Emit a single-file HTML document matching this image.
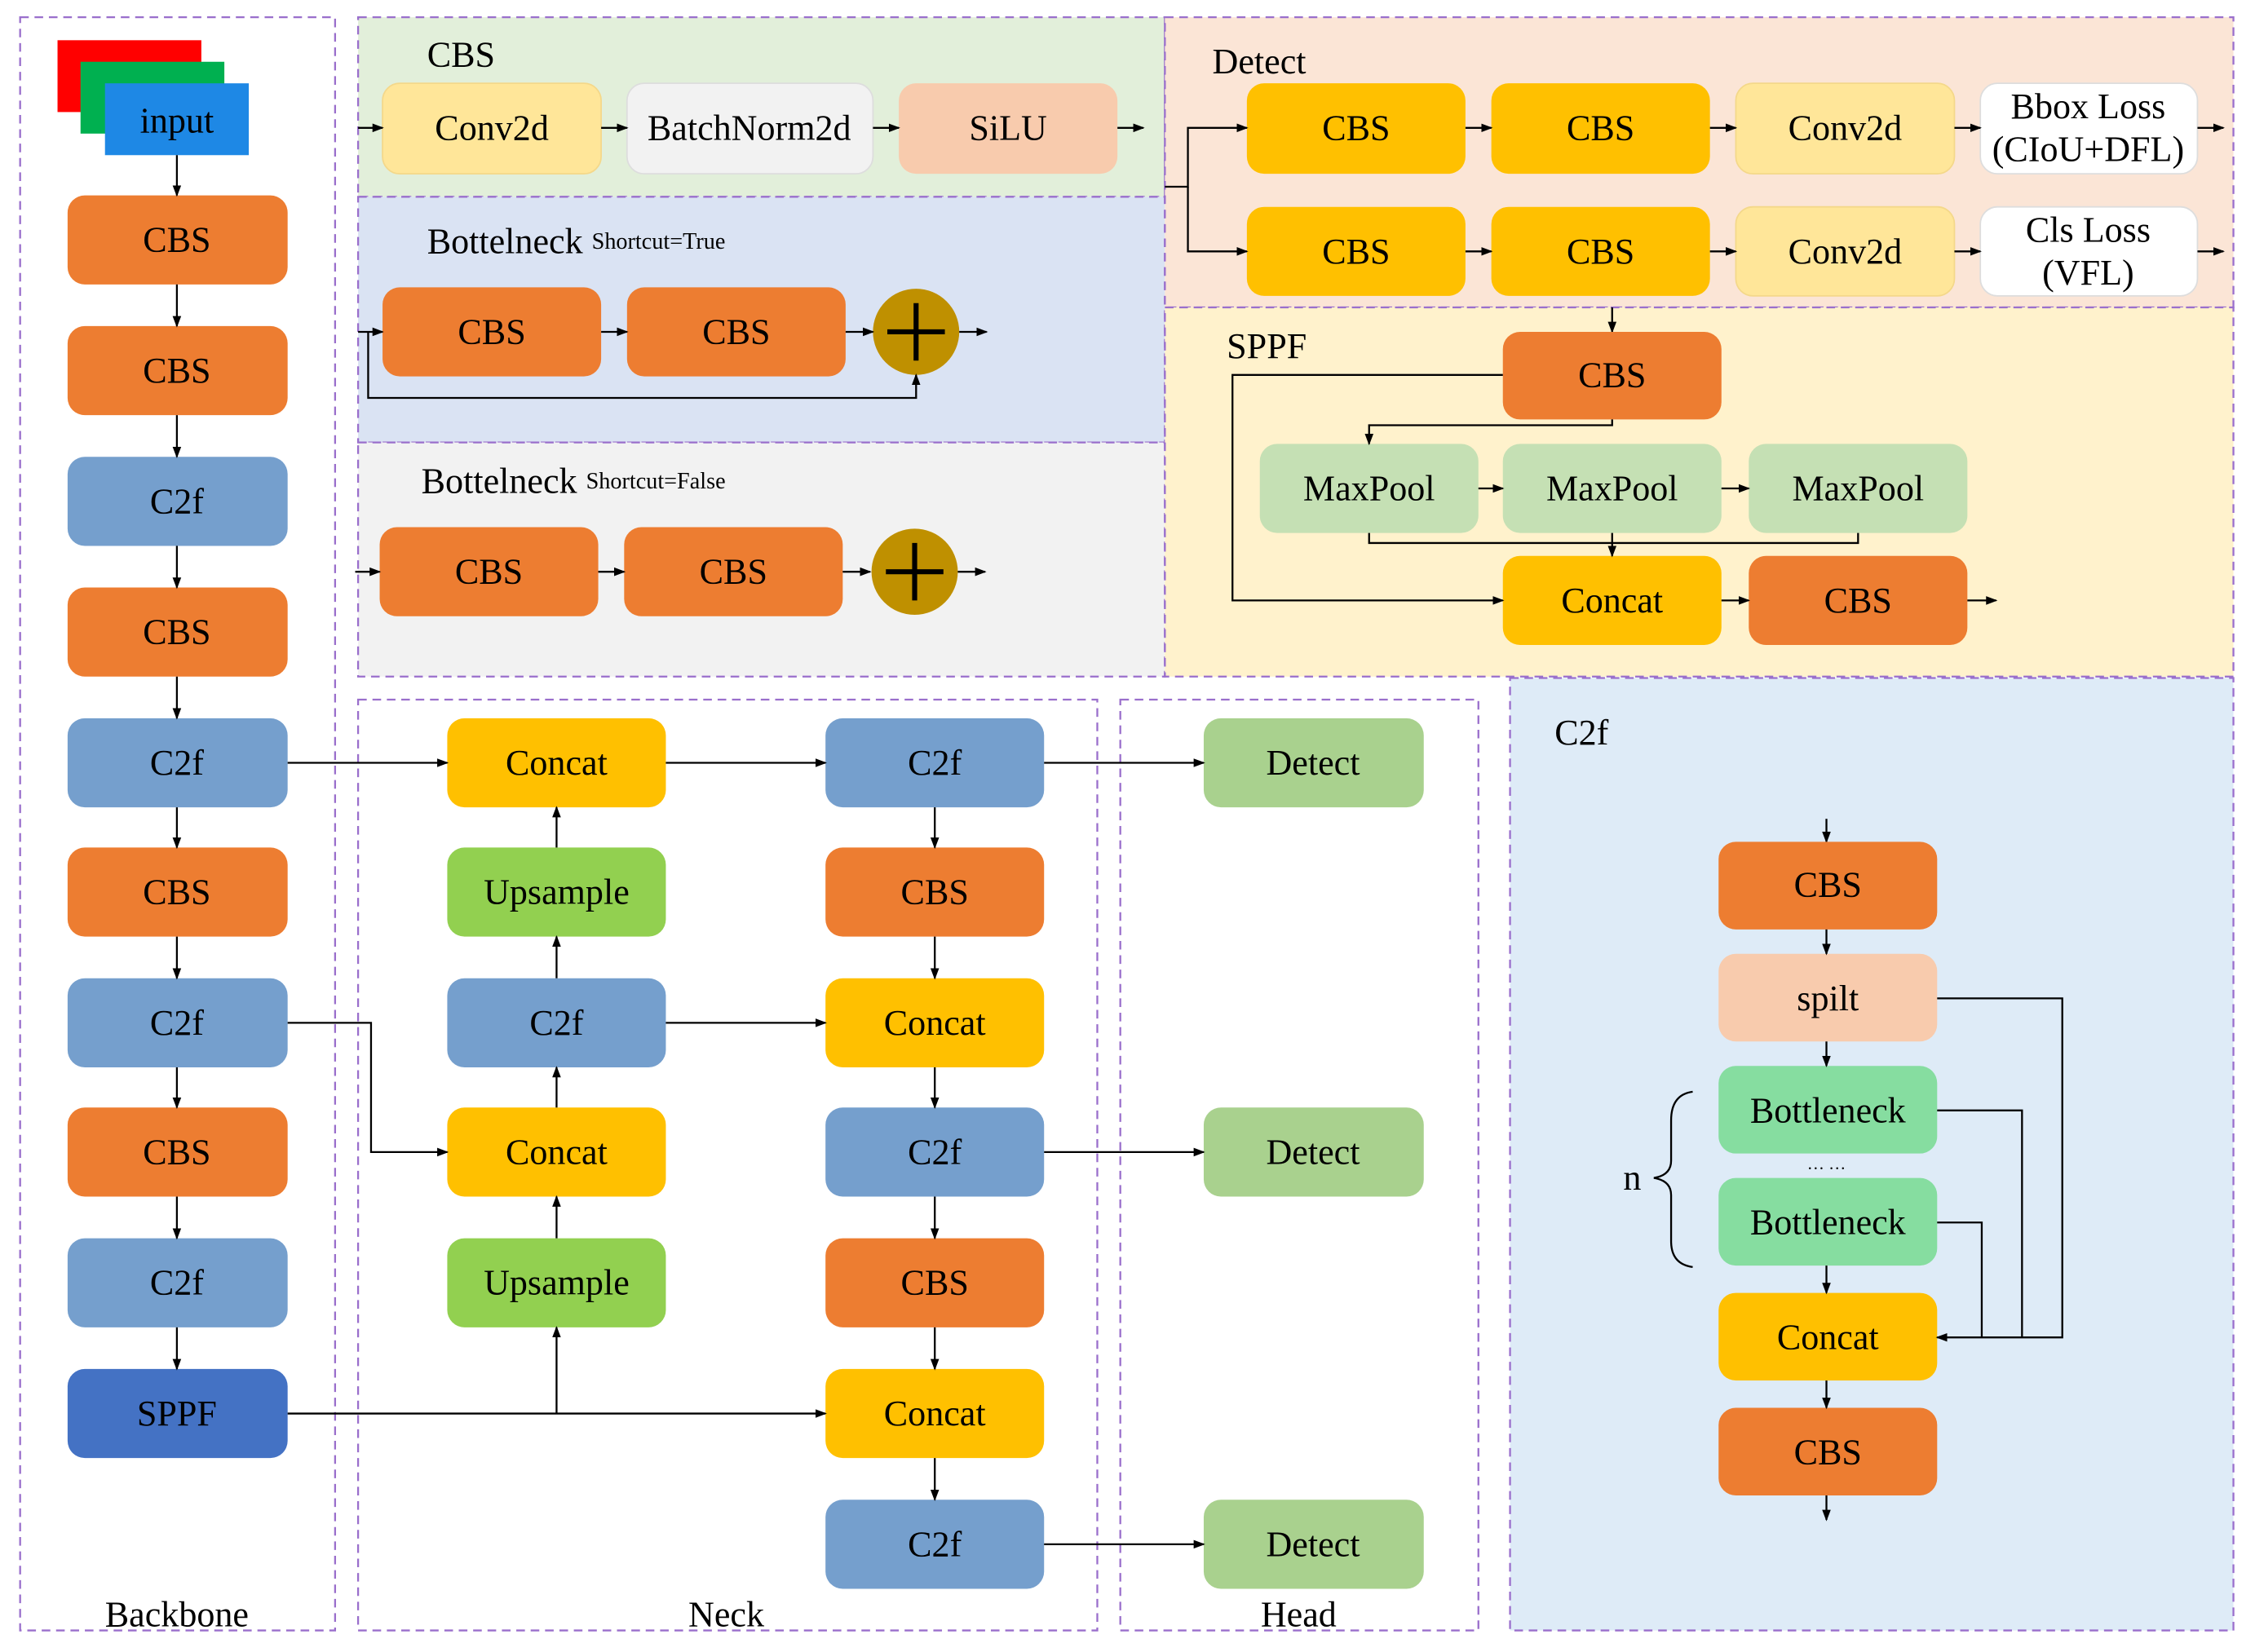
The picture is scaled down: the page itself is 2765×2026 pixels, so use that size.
<!DOCTYPE html>
<html><head><meta charset="utf-8"><style>
html,body{margin:0;padding:0;background:#fff;}
svg{display:block;}
text{font-family:"Liberation Serif",serif;font-size:25px;fill:#000;text-anchor:middle;dominant-baseline:central;}
.t{text-anchor:start;}
.l{stroke:#000;stroke-width:1.3;fill:none;}
.a{stroke:#000;stroke-width:1.3;fill:none;marker-end:url(#ar);}
.p{stroke:#9A6FCC;stroke-width:1.3;stroke-dasharray:6 4;}
</style></head><body>
<svg width="2765" height="2026" viewBox="0 0 1568 1150" preserveAspectRatio="none" xmlns="http://www.w3.org/2000/svg">
<defs><marker id="ar" markerWidth="8" markerHeight="8" refX="7" refY="4" orient="auto" markerUnits="userSpaceOnUse"><path d="M0,1 L8,4 L0,7 z" fill="#000"/></marker></defs>
<rect width="1568" height="1150" fill="#fff"/>
<!-- panels -->
<rect x="249" y="12" width="561" height="125" fill="#E2EFDA" class="p"/>
<rect x="249" y="137" width="561" height="171" fill="#DAE3F3" class="p"/>
<rect x="249" y="308" width="561" height="163" fill="#F2F2F2" class="p"/>
<rect x="810" y="12" width="743" height="202" fill="#FBE5D6" class="p"/>
<rect x="810" y="214" width="743" height="257" fill="#FFF2CC" class="p"/>
<rect x="1050" y="472" width="503" height="663" fill="#DEEBF7" class="p"/>
<rect x="14" y="12" width="219" height="1123" fill="none" class="p"/>
<rect x="249" y="487" width="514" height="648" fill="none" class="p"/>
<rect x="779" y="487" width="249" height="648" fill="none" class="p"/>

<!-- input -->
<rect x="40" y="28" width="100" height="50" fill="#FF0000"/>
<rect x="56" y="43" width="100" height="50" fill="#00B050"/>
<rect x="73" y="58" width="100" height="50" fill="#1E88E5"/>
<text x="123" y="84">input</text>

<!-- backbone -->
<g>
<rect x="47" y="136" width="153" height="62" rx="12" fill="#ED7D31"/><text x="123" y="167">CBS</text>
<rect x="47" y="227" width="153" height="62" rx="12" fill="#ED7D31"/><text x="123" y="258">CBS</text>
<rect x="47" y="318" width="153" height="62" rx="12" fill="#759FCD"/><text x="123" y="349">C2f</text>
<rect x="47" y="409" width="153" height="62" rx="12" fill="#ED7D31"/><text x="123" y="440">CBS</text>
<rect x="47" y="500" width="153" height="62" rx="12" fill="#759FCD"/><text x="123" y="531">C2f</text>
<rect x="47" y="590" width="153" height="62" rx="12" fill="#ED7D31"/><text x="123" y="621">CBS</text>
<rect x="47" y="681" width="153" height="62" rx="12" fill="#759FCD"/><text x="123" y="712">C2f</text>
<rect x="47" y="771" width="153" height="62" rx="12" fill="#ED7D31"/><text x="123" y="802">CBS</text>
<rect x="47" y="862" width="153" height="62" rx="12" fill="#759FCD"/><text x="123" y="893">C2f</text>
<rect x="47" y="953" width="153" height="62" rx="12" fill="#4472C4"/><text x="123" y="984">SPPF</text>
<line x1="123" y1="108" x2="123" y2="136" class="a"/>
<line x1="123" y1="198" x2="123" y2="227" class="a"/>
<line x1="123" y1="289" x2="123" y2="318" class="a"/>
<line x1="123" y1="380" x2="123" y2="409" class="a"/>
<line x1="123" y1="471" x2="123" y2="500" class="a"/>
<line x1="123" y1="562" x2="123" y2="590" class="a"/>
<line x1="123" y1="652" x2="123" y2="681" class="a"/>
<line x1="123" y1="743" x2="123" y2="771" class="a"/>
<line x1="123" y1="833" x2="123" y2="862" class="a"/>
<line x1="123" y1="924" x2="123" y2="953" class="a"/>
</g>

<!-- neck col1 -->
<rect x="311" y="500" width="152" height="62" rx="12" fill="#FFC000"/><text x="387" y="531">Concat</text>
<rect x="311" y="590" width="152" height="62" rx="12" fill="#92D050"/><text x="387" y="621">Upsample</text>
<rect x="311" y="681" width="152" height="62" rx="12" fill="#759FCD"/><text x="387" y="712">C2f</text>
<rect x="311" y="771" width="152" height="62" rx="12" fill="#FFC000"/><text x="387" y="802">Concat</text>
<rect x="311" y="862" width="152" height="62" rx="12" fill="#92D050"/><text x="387" y="893">Upsample</text>
<line x1="387" y1="590" x2="387" y2="562" class="a"/>
<line x1="387" y1="681" x2="387" y2="652" class="a"/>
<line x1="387" y1="771" x2="387" y2="743" class="a"/>
<line x1="387" y1="862" x2="387" y2="833" class="a"/>
<!-- neck col2 -->
<rect x="574" y="500" width="152" height="62" rx="12" fill="#759FCD"/><text x="650" y="531">C2f</text>
<rect x="574" y="590" width="152" height="62" rx="12" fill="#ED7D31"/><text x="650" y="621">CBS</text>
<rect x="574" y="681" width="152" height="62" rx="12" fill="#FFC000"/><text x="650" y="712">Concat</text>
<rect x="574" y="771" width="152" height="62" rx="12" fill="#759FCD"/><text x="650" y="802">C2f</text>
<rect x="574" y="862" width="152" height="62" rx="12" fill="#ED7D31"/><text x="650" y="893">CBS</text>
<rect x="574" y="953" width="152" height="62" rx="12" fill="#FFC000"/><text x="650" y="984">Concat</text>
<rect x="574" y="1044" width="152" height="62" rx="12" fill="#759FCD"/><text x="650" y="1075">C2f</text>
<line x1="650" y1="562" x2="650" y2="590" class="a"/>
<line x1="650" y1="652" x2="650" y2="681" class="a"/>
<line x1="650" y1="743" x2="650" y2="771" class="a"/>
<line x1="650" y1="833" x2="650" y2="862" class="a"/>
<line x1="650" y1="924" x2="650" y2="953" class="a"/>
<line x1="650" y1="1015" x2="650" y2="1044" class="a"/>
<!-- head -->
<rect x="837" y="500" width="153" height="62" rx="12" fill="#A9D18E"/><text x="913" y="531">Detect</text>
<rect x="837" y="771" width="153" height="62" rx="12" fill="#A9D18E"/><text x="913" y="802">Detect</text>
<rect x="837" y="1044" width="153" height="62" rx="12" fill="#A9D18E"/><text x="913" y="1075">Detect</text>
<!-- neck connections -->
<line x1="200" y1="531" x2="311" y2="531" class="a"/>
<line x1="463" y1="531" x2="574" y2="531" class="a"/>
<line x1="726" y1="531" x2="837" y2="531" class="a"/>
<polyline points="200,712 258,712 258,802 311,802" class="a"/>
<line x1="463" y1="712" x2="574" y2="712" class="a"/>
<line x1="726" y1="802" x2="837" y2="802" class="a"/>
<line x1="726" y1="1075" x2="837" y2="1075" class="a"/>
<line x1="200" y1="984" x2="574" y2="984" class="a"/>
<line x1="387" y1="984" x2="387" y2="924" class="a"/>

<text x="123" y="1124">Backbone</text>
<text x="505" y="1124">Neck</text>
<text x="903" y="1124">Head</text>

<!-- CBS panel -->
<text x="297" y="38" class="t">CBS</text>
<rect x="266" y="58" width="152" height="63" rx="12" fill="#FFE699" stroke="#F4D88A"/><text x="342" y="89">Conv2d</text>
<rect x="436" y="58" width="171" height="63" rx="12" fill="#F2F2F2" stroke="#ddd"/><text x="521" y="89">BatchNorm2d</text>
<rect x="625" y="58" width="152" height="63" rx="12" fill="#F8CBAD"/><text x="701" y="89">SiLU</text>
<line x1="249" y1="89" x2="266" y2="89" class="a"/>
<line x1="418" y1="89" x2="436" y2="89" class="a"/>
<line x1="607" y1="89" x2="625" y2="89" class="a"/>
<line x1="777" y1="89" x2="795" y2="89" class="a"/>

<!-- Bottleneck true -->
<text x="297" y="168" class="t">Bottelneck <tspan style="font-size:16px">Shortcut=True</tspan></text>
<rect x="266" y="200" width="152" height="62" rx="12" fill="#ED7D31"/><text x="342" y="231">CBS</text>
<rect x="436" y="200" width="152" height="62" rx="12" fill="#ED7D31"/><text x="512" y="231">CBS</text>
<circle cx="637" cy="231" r="30" fill="#BF9000"/>
<path d="M617,231 H657 M637,211 V251" stroke="#000" stroke-width="3.5"/>
<line x1="249" y1="231" x2="266" y2="231" class="a"/>
<line x1="418" y1="231" x2="436" y2="231" class="a"/>
<line x1="588" y1="231" x2="607" y2="231" class="a"/>
<line x1="667" y1="231" x2="686" y2="231" class="a"/>
<polyline points="256,231 256,277 637,277 637,261" class="a"/>

<!-- Bottleneck false -->
<text x="293" y="335" class="t">Bottelneck <tspan style="font-size:16px">Shortcut=False</tspan></text>
<rect x="264" y="367" width="152" height="62" rx="12" fill="#ED7D31"/><text x="340" y="398">CBS</text>
<rect x="434" y="367" width="152" height="62" rx="12" fill="#ED7D31"/><text x="510" y="398">CBS</text>
<circle cx="636" cy="398" r="30" fill="#BF9000"/>
<path d="M616,398 H656 M636,378 V418" stroke="#000" stroke-width="3.5"/>
<line x1="247" y1="398" x2="264" y2="398" class="a"/>
<line x1="416" y1="398" x2="434" y2="398" class="a"/>
<line x1="586" y1="398" x2="605" y2="398" class="a"/>
<line x1="666" y1="398" x2="685" y2="398" class="a"/>

<!-- Detect panel -->
<text x="843" y="43" class="t">Detect</text>
<rect x="867" y="58" width="152" height="63" rx="12" fill="#FFC000"/><text x="943" y="89">CBS</text>
<rect x="1037" y="58" width="152" height="63" rx="12" fill="#FFC000"/><text x="1113" y="89">CBS</text>
<rect x="1207" y="58" width="152" height="63" rx="12" fill="#FFE699" stroke="#F4D88A"/><text x="1283" y="89">Conv2d</text>
<rect x="1377" y="58" width="151" height="63" rx="12" fill="#fff" stroke="#ddd"/><text x="1452" y="74">Bbox Loss</text><text x="1452" y="104">(CIoU+DFL)</text>
<rect x="867" y="144" width="152" height="62" rx="12" fill="#FFC000"/><text x="943" y="175">CBS</text>
<rect x="1037" y="144" width="152" height="62" rx="12" fill="#FFC000"/><text x="1113" y="175">CBS</text>
<rect x="1207" y="144" width="152" height="62" rx="12" fill="#FFE699" stroke="#F4D88A"/><text x="1283" y="175">Conv2d</text>
<rect x="1377" y="144" width="151" height="62" rx="12" fill="#fff" stroke="#ddd"/><text x="1452" y="160">Cls Loss</text><text x="1452" y="190">(VFL)</text>
<polyline points="810,130 826,130 826,89 867,89" class="a"/>
<polyline points="826,130 826,175 867,175" class="a"/>
<line x1="1019" y1="89" x2="1037" y2="89" class="a"/>
<line x1="1189" y1="89" x2="1207" y2="89" class="a"/>
<line x1="1359" y1="89" x2="1377" y2="89" class="a"/>
<line x1="1528" y1="89" x2="1546" y2="89" class="a"/>
<line x1="1019" y1="175" x2="1037" y2="175" class="a"/>
<line x1="1189" y1="175" x2="1207" y2="175" class="a"/>
<line x1="1359" y1="175" x2="1377" y2="175" class="a"/>
<line x1="1528" y1="175" x2="1546" y2="175" class="a"/>

<!-- SPPF panel -->
<text x="853" y="241" class="t">SPPF</text>
<line x1="1121" y1="214" x2="1121" y2="231" class="a"/>
<rect x="1045" y="231" width="152" height="61" rx="12" fill="#ED7D31"/><text x="1121" y="261">CBS</text>
<rect x="876" y="309" width="152" height="62" rx="12" fill="#C5E0B4"/><text x="952" y="340">MaxPool</text>
<rect x="1045" y="309" width="152" height="62" rx="12" fill="#C5E0B4"/><text x="1121" y="340">MaxPool</text>
<rect x="1216" y="309" width="152" height="62" rx="12" fill="#C5E0B4"/><text x="1292" y="340">MaxPool</text>
<rect x="1045" y="387" width="152" height="62" rx="12" fill="#FFC000"/><text x="1121" y="418">Concat</text>
<rect x="1216" y="387" width="152" height="62" rx="12" fill="#ED7D31"/><text x="1292" y="418">CBS</text>
<polyline points="1121,292 1121,296 952,296 952,309" class="a"/>
<line x1="1028" y1="340" x2="1045" y2="340" class="a"/>
<line x1="1197" y1="340" x2="1216" y2="340" class="a"/>
<polyline points="1045,261 857,261 857,418 1045,418" class="a"/>
<polyline points="952,371 952,378 1292,378 1292,371" class="l"/>
<line x1="1121" y1="371" x2="1121" y2="387" class="a"/>
<line x1="1197" y1="418" x2="1216" y2="418" class="a"/>
<line x1="1368" y1="418" x2="1388" y2="418" class="a"/>

<!-- C2f panel -->
<text x="1081" y="510" class="t">C2f</text>
<line x1="1270" y1="570" x2="1270" y2="586" class="a"/>
<rect x="1195" y="586" width="152" height="61" rx="12" fill="#ED7D31"/><text x="1271" y="616">CBS</text>
<rect x="1195" y="664" width="152" height="61" rx="12" fill="#F8CBAD"/><text x="1271" y="695">spilt</text>
<rect x="1195" y="742" width="152" height="61" rx="12" fill="#86DDA0"/><text x="1271" y="773">Bottleneck</text>
<text x="1270" y="810" style="font-size:12px">… …</text>
<rect x="1195" y="820" width="152" height="61" rx="12" fill="#86DDA0"/><text x="1271" y="851">Bottleneck</text>
<rect x="1195" y="900" width="152" height="61" rx="12" fill="#FFC000"/><text x="1271" y="931">Concat</text>
<rect x="1195" y="980" width="152" height="61" rx="12" fill="#ED7D31"/><text x="1271" y="1011">CBS</text>
<line x1="1270" y1="647" x2="1270" y2="664" class="a"/>
<line x1="1270" y1="725" x2="1270" y2="742" class="a"/>
<line x1="1270" y1="881" x2="1270" y2="900" class="a"/>
<line x1="1270" y1="961" x2="1270" y2="980" class="a"/>
<line x1="1270" y1="1041" x2="1270" y2="1058" class="a"/>
<polyline points="1347,695 1434,695 1434,931 1347,931" class="a"/>
<polyline points="1347,773 1406,773 1406,931" class="l"/>
<polyline points="1347,851 1378,851 1378,931" class="l"/>
<path d="M1177,760 Q1162,762 1162,780 L1162,808 Q1162,818 1150,820 Q1162,822 1162,832 L1162,864 Q1162,880 1177,882" class="l"/>
<text x="1135" y="820">n</text>
</svg>
</body></html>
